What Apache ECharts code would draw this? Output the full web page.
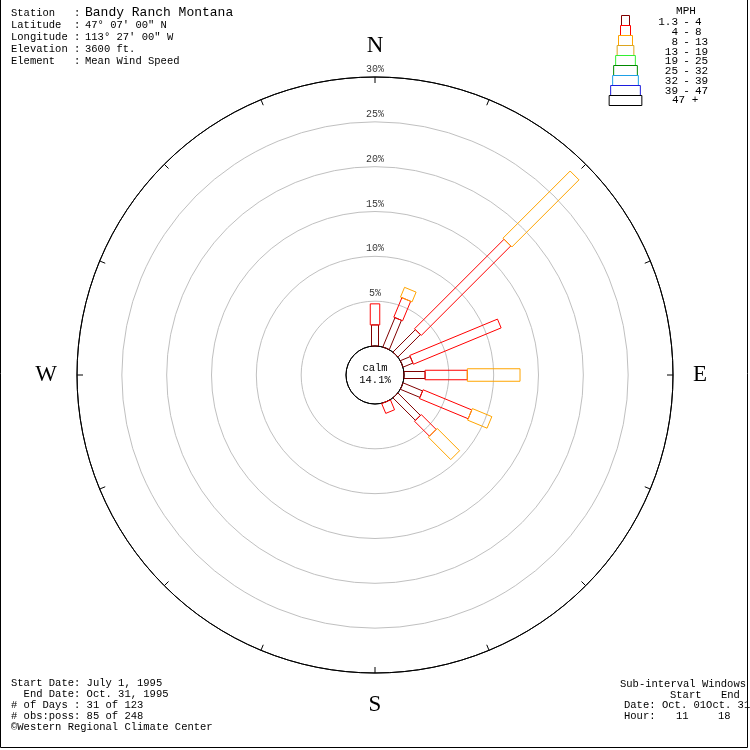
<!DOCTYPE html>
<html>
<head>
<meta charset="utf-8">
<script src="https://cdn.jsdelivr.net/npm/echarts@6/dist/echarts.min.js"></script>
<style>html,body{margin:0;padding:0;background:#fff}#chart{width:750px;height:750px}</style>
</head>
<body>
<div id="chart"></div>
<script>
// ---------------- data ----------------
const directions = ['N','NNE','NE','ENE','E','ESE','SE','SSE','S','SSW','SW','WSW','W','WNW','NW','NNW'];
const directionAngles = [0,22.5,45,67.5,90,112.5,135,157.5,180,202.5,225,247.5,270,292.5,315,337.5];
const speedClasses = ['1.3 - 4','4 - 8','8 - 13','13 - 19','19 - 25','25 - 32','32 - 39','39 - 47','47 +'];
// percent of observations per direction, per speed class (MPH)
const pct_1_3to4 = [2.35,3.53,3.53,1.18,2.35,2.35,3.53,0,0,0,0,0,0,0,0,0];
const pct_4to8   = [2.35,2.35,14.12,10.59,4.71,5.88,2.35,1.18,0,0,0,0,0,0,0,0];
const pct_8to13  = [0,1.18,10.59,0,5.88,2.35,3.53,0,0,0,0,0,0,0,0,0];
const pct_13to19 = [0,0,0,0,0,0,0,0,0,0,0,0,0,0,0,0];
const pct_19to25 = [0,0,0,0,0,0,0,0,0,0,0,0,0,0,0,0];
const pct_25to32 = [0,0,0,0,0,0,0,0,0,0,0,0,0,0,0,0];
const pct_32to39 = [0,0,0,0,0,0,0,0,0,0,0,0,0,0,0,0];
const pct_39to47 = [0,0,0,0,0,0,0,0,0,0,0,0,0,0,0,0];
const pct_47up   = [0,0,0,0,0,0,0,0,0,0,0,0,0,0,0,0];
const calmPct = '14.1%';
const ringTicks = [5,10,15,20,25,30];
const cardinalLabels = {0:'N',90:'E',180:'S',270:'W'};

const headerLabels = ['Station','Latitude','Longitude','Elevation','Element'];
const headerValues = ['Bandy Ranch Montana','47\u00b0 07\' 00" N','113\u00b0 27\' 00" W','3600 ft.','Mean Wind Speed'];
const footerLeft = ['Start Date: July 1, 1995','  End Date: Oct. 31, 1995','# of Days : 31 of 123','# obs:poss: 85 of 248','\u00a9Western Regional Climate Center'];
const subTitle = 'Sub-interval Windows';
const subCols = ['Start','End'];
const subDate = ['Oct. 01','Oct. 31'];
const subHour = ['11','18'];

// ---------------- styles ----------------
const classColors = ['#800000','#ff0000','#ffa500','#daa520','#33ee33','#008800','#1ea0e6','#1c1cdc','#000000'];
const barWidths = [7,9.5,12.5,15,17.5,20,22.5,25,27.5];
const legendWidths = [8,10,14,16.7,19.7,23.7,25.7,29.7,32.7];
const MONO = 'Liberation Mono';

const classValues = [pct_1_3to4,pct_4to8,pct_8to13,pct_13to19,pct_19to25,pct_25to32,pct_32to39,pct_39to47,pct_47up];

function makeRender(color, w) {
  return function (params, api) {
    const ang = api.value(0), r0 = api.value(1), r1 = api.value(2);
    const p0 = api.coord([r0, ang]);
    const p1 = api.coord([r1, ang]);
    const dx = p1[0]-p0[0], dy = p1[1]-p0[1];
    const len = Math.sqrt(dx*dx+dy*dy) || 1;
    const nx = -dy/len*w/2, ny = dx/len*w/2;
    return {
      type: 'polygon',
      shape: { points: [[p0[0]+nx,p0[1]+ny],[p1[0]+nx,p1[1]+ny],[p1[0]-nx,p1[1]-ny],[p0[0]-nx,p0[1]-ny]] },
      style: { fill: 'none', stroke: color, lineWidth: 1 }
    };
  };
}

const cum = directions.map(() => 0);
const barSeries = classValues.map((vals, k) => {
  const data = [];
  vals.forEach((v, i) => {
    if (v > 0) data.push([directionAngles[i], cum[i], cum[i] + v]);
    cum[i] += v;
  });
  return {
    type: 'custom', name: speedClasses[k], coordinateSystem: 'polar',
    encode: { angle: 0, radius: [1, 2] },
    data: data, renderItem: makeRender(classColors[k], barWidths[k]),
    silent: true, z: 4, animation: false
  };
});

const ringLabelSeries = {
  type: 'scatter', coordinateSystem: 'polar',
  data: ringTicks.map(t => [t, 0]),
  symbolSize: 1, itemStyle: { color: 'rgba(0,0,0,0)' },
  label: { show: true, position: 'top', distance: 2, formatter: p => p.value[0] + '%',
           fontFamily: MONO, fontSize: 10, color: '#000' },
  silent: true, z: 5, animation: false
};

// ---------------- graphic (texts, legend, frame) ----------------
const graphics = [];
function txt(x, y, text, size, align, family) {
  graphics.push({ type: 'text', x: x, y: y, silent: true,
    style: { text: text, fontFamily: family || MONO, fontSize: size, fill: '#000',
             align: align || 'left', verticalAlign: 'middle' } });
}
headerLabels.forEach((l, i) => {
  const y = 13 + i * 12;
  txt(11, y, (l + '          ').slice(0, 10) + ':', 10.5);
  txt(85, y, headerValues[i], i === 0 ? 13 : 10.5);
});
footerLeft.forEach((l, i) => txt(11, 683 + i * 11, l, 10.5));
txt(620, 684, subTitle, 10.5);
txt(670, 695, subCols[0], 10.5);
txt(721, 695, subCols[1], 10.5);
txt(624, 705, 'Date:', 10.5);
txt(662, 705, subDate[0] + subDate[1], 10.5);
txt(624, 716, 'Hour:', 10.5);
txt(676, 716, subHour[0], 10.5);
txt(718, 716, subHour[1], 10.5);
// legend
txt(686, 11.5, 'MPH', 11, 'center');
speedClasses.forEach((c, i) => {
  const w = legendWidths[i];
  graphics.push({ type: 'rect', silent: true, shape: { x: 625.5 - w/2, y: 15.5 + 10*i, width: w, height: 10 },
    style: { fill: 'none', stroke: classColors[i], lineWidth: 1 } });
  const y = 22.5 + 9.75 * i;
  const parts = c.split(' - ');
  if (parts.length === 2) {
    txt(678, y, parts[0], 11, 'right');
    txt(686.5, y, '-', 11, 'center');
    txt(695, y, parts[1], 11, 'left');
  } else {
    txt(672, y, c, 11, 'left');
  }
});
// calm text
txt(375, 368, 'calm', 10.5, 'center');
txt(375, 380, calmPct, 10.5, 'center');
// frame
graphics.push({ type: 'polyline', silent: true, shape: { points: [[0.5,0],[0.5,747.5],[747.5,747.5],[747.5,0]] },
  style: { fill: 'none', stroke: '#000', lineWidth: 1 } });

const chart = echarts.init(document.getElementById('chart'), null, { renderer: 'canvas' });
chart.setOption({
  animation: false,
  backgroundColor: '#fff',
  polar: { center: ['50%','50%'], radius: [29, 298] },
  angleAxis: {
    type: 'value', min: 0, max: 360, interval: 22.5, startAngle: 90, clockwise: true,
    axisLine: { show: true, lineStyle: { color: '#000', width: 1 } },
    axisTick: { show: true, inside: true, length: 6, lineStyle: { color: '#000', width: 1 } },
    axisLabel: { show: true, margin: 20, formatter: v => cardinalLabels[v] || '',
                 fontFamily: 'Liberation Serif', fontSize: 23, color: '#000' },
    splitLine: { show: false }
  },
  radiusAxis: {
    type: 'value', min: 0, max: 30, interval: 5,
    axisLine: { show: false }, axisTick: { show: false }, axisLabel: { show: false },
    splitLine: { show: true, lineStyle: { color: ['#000','#c0c0c0','#c0c0c0','#c0c0c0','#c0c0c0','#c0c0c0','#000'], width: 1 } }
  },
  series: barSeries.concat([ringLabelSeries]),
  graphic: graphics
});
</script>
</body>
</html>
